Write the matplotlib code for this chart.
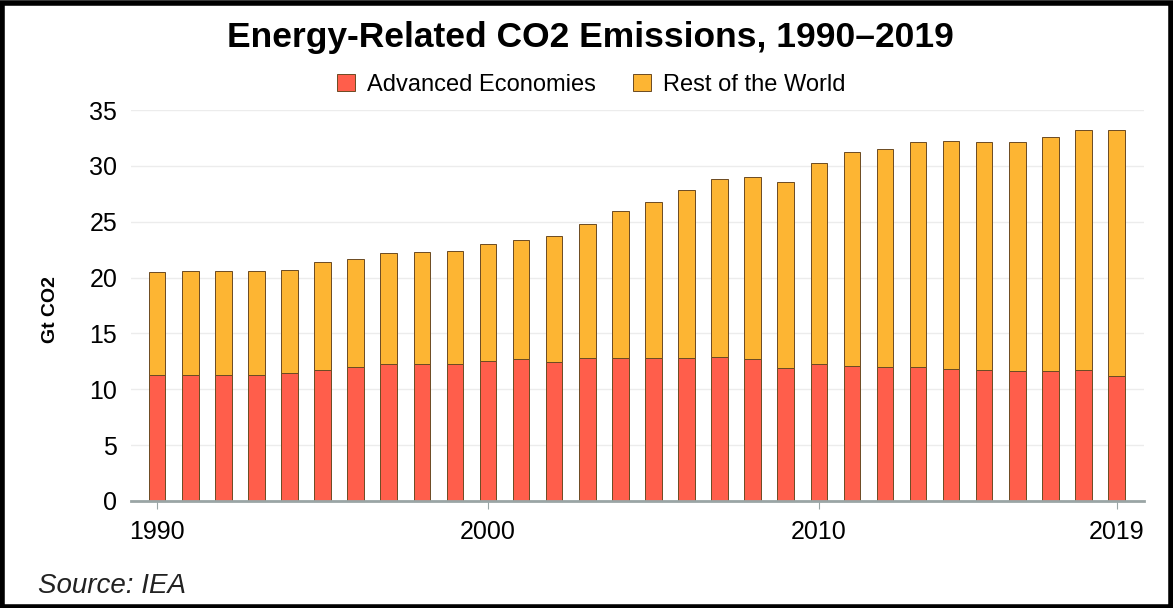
import matplotlib.pyplot as plt
from matplotlib.patches import Rectangle
import numpy as np

plt.rcParams['font.family'] = ['Liberation Sans', 'DejaVu Sans']

years = list(range(1990, 2020))
advanced = [11.3, 11.3, 11.3, 11.3, 11.5, 11.7, 12.0, 12.3, 12.3, 12.3,
            12.5, 12.7, 12.4, 12.8, 12.8, 12.8, 12.8, 12.9, 12.7, 11.9,
            12.3, 12.1, 12.0, 12.0, 11.8, 11.7, 11.6, 11.6, 11.7, 11.2]
total = [20.5, 20.6, 20.6, 20.6, 20.7, 21.4, 21.7, 22.2, 22.3, 22.4,
         23.0, 23.4, 23.7, 24.8, 26.0, 26.8, 27.8, 28.8, 29.0, 28.6,
         30.3, 31.2, 31.5, 32.1, 32.2, 32.1, 32.1, 32.6, 33.2, 33.2]
rest = [t - a for t, a in zip(total, advanced)]

red = '#ff5e4b'
orange = '#fdb533'
edge = '#6b4a22'

fig = plt.figure(figsize=(11.73, 6.08), dpi=100)
ax = fig.add_axes([0.1117, 0.176, 0.8633, 0.643])

ax.bar(years, advanced, width=0.5, color=red, edgecolor=edge, linewidth=0.7,
       label='Advanced Economies', zorder=3)
ax.bar(years, rest, width=0.5, bottom=advanced, color=orange, edgecolor=edge,
       linewidth=0.7, label='Rest of the World', zorder=3)

ax.set_ylim(0, 35)
ax.set_xlim(1989.21, 2019.82)
ax.set_yticks(np.arange(0, 36, 5))
ax.set_xticks([1990, 2000, 2010, 2019])
ax.grid(axis='y', color='#ececec', linewidth=1, zorder=0)
for s in ['top', 'right', 'left']:
    ax.spines[s].set_visible(False)
ax.spines['bottom'].set_color('#9aa5a5')
ax.spines['bottom'].set_linewidth(2)
ax.spines['bottom'].set_zorder(4)
ax.tick_params(axis='y', length=0, labelsize=18, pad=10)
ax.tick_params(axis='x', length=6, color='#9aa5a5', labelsize=18, pad=8)

ax.set_ylabel('Gt CO2', fontsize=14, fontweight='bold')
ax.yaxis.set_label_coords(-0.071, 0.49)

fig.text(0.503, 0.938, 'Energy-Related CO2 Emissions, 1990\u20132019',
         ha='center', va='center', fontsize=25.5, fontweight='bold')
fig.legend(loc='center', bbox_to_anchor=(0.504, 0.861), ncol=2, frameon=False,
           fontsize=17, handlelength=0.75, handleheight=0.75, handletextpad=0.5,
           columnspacing=1.6)
fig.text(0.032, 0.036, 'Source: IEA', ha='left', va='center',
         fontsize=20, fontstyle='italic', color='#222222')

# frame around the whole graphic
fig.patches.append(Rectangle((0.002, 0.002), 0.996, 0.993, transform=fig.transFigure,
                             fill=False, edgecolor='black', linewidth=4))

fig.savefig('out.png', dpi=100)
